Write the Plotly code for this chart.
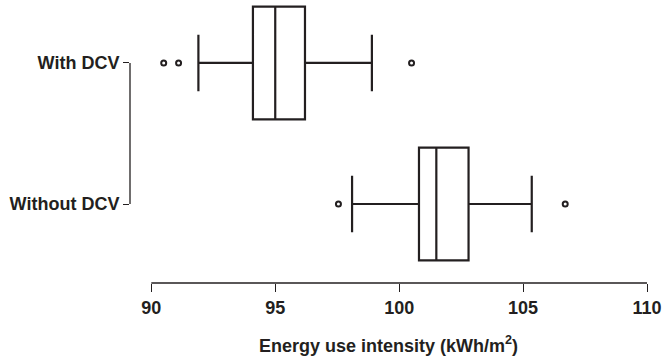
import plotly.graph_objects as go

# ---- data ----
categories = ["With DCV", "Without DCV"]
q1 = [94.1, 100.8]
median = [95.0, 101.5]
q3 = [96.2, 102.8]
lower_whisker = [91.9, 98.1]
upper_whisker = [98.9, 105.35]
outlier_values = [90.5, 91.1, 100.5, 97.55, 106.7]
outlier_groups = ["With DCV", "With DCV", "With DCV", "Without DCV", "Without DCV"]
x_ticks = [90, 95, 100, 105, 110]
x_title = "Energy use intensity (kWh/m<sup>2</sup>)"

INK = "#231f20"
FONT = dict(family="Liberation Sans, Arial, sans-serif", size=18, color=INK, weight="bold")

fig = go.Figure()
fig.add_trace(go.Box(
    y=categories, q1=q1, median=median, q3=q3,
    lowerfence=lower_whisker, upperfence=upper_whisker,
    orientation="h", boxpoints=False,
    fillcolor="rgba(0,0,0,0)",
    line=dict(color=INK, width=2.2),
    whiskerwidth=0.5, showlegend=False, hoverinfo="skip",
))
fig.add_trace(go.Scatter(
    x=outlier_values, y=outlier_groups, mode="markers",
    marker=dict(symbol="circle-open", size=5, color=INK, line=dict(width=2, color=INK)),
    showlegend=False, hoverinfo="skip",
))

# axis spines limited to data span (base-R style)
fig.add_shape(type="line", xref="x", yref="paper", x0=x_ticks[0], x1=x_ticks[-1], y0=0, y1=0,
              line=dict(color=INK, width=1.3))
fig.add_shape(type="line", xref="paper", yref="y", x0=0, x1=0, y0=categories[0], y1=categories[-1],
              line=dict(color=INK, width=1.3))

fig.add_annotation(text=x_title, xref="paper", yref="paper", x=0.5, y=-0.223,
                   xanchor="center", yanchor="middle", showarrow=False, font=FONT)

fig.update_layout(
    width=664, height=358,
    margin=dict(l=130, r=17, t=5, b=75, autoexpand=False),
    paper_bgcolor="white", plot_bgcolor="white",
    boxgap=0.2, boxgroupgap=0,
    xaxis=dict(range=[89.14, 110], tickvals=x_ticks, ticks="outside", ticklen=8, tickwidth=1.3,
               tickcolor=INK, showgrid=False, zeroline=False, showline=False, tickfont=FONT),
    yaxis=dict(type="category", categoryarray=categories, range=[1.560, -0.411],
               ticks="outside", ticklen=6, tickwidth=1.3, tickcolor=INK,
               showgrid=False, zeroline=False, showline=False, tickfont=FONT),
)

fig.write_html("out.html")
